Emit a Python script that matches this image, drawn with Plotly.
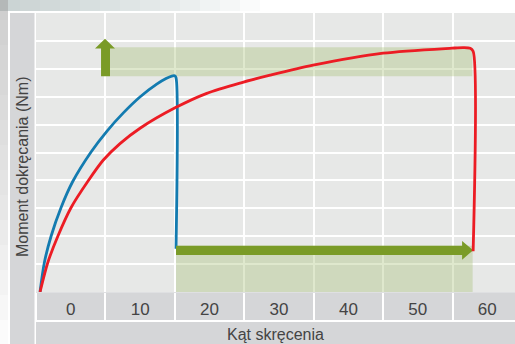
import plotly.graph_objects as go

# ---- data (axis units: x = angle, y = torque, schematic) ----
x_tick_vals = [0, 10, 20, 30, 40, 50, 60]
x_tick_text = ["0", "10", "20", "30", "40", "50", "60"]
x_grid_vals = [-5, 5, 15, 25, 35, 45, 55]

blue_x = [-4.42, -3.80, -2.84, -1.40, 0.29, 2.93, 5.23, 7.58, 9.97, 12.39, 13.73, 14.55, 14.98, 15.17, 15.17]
blue_y = [0.0, 1.05, 1.99, 3.02, 3.96, 5.02, 5.77, 6.42, 6.99, 7.45, 7.65, 7.74, 7.75, 7.68, 1.55]

red_x = [-4.42, -3.31, -1.87, 0.04, 2.45, 4.70, 7.10, 9.99, 15.03, 19.60, 24.40, 28.72,
         34.91, 45.00, 54.94, 56.53, 57.54, 57.97, 57.97]
red_y = [0.0, 1.05, 1.99, 3.02, 3.96, 4.73, 5.32, 5.87, 6.60, 7.12, 7.49, 7.77,
         8.13, 8.56, 8.74, 8.76, 8.74, 8.63, 1.46]

top_band_x = [5.66, 57.85]
top_band_y = [7.73, 8.77]
bottom_band_x = [15.17, 57.9]
bottom_band_y = [0.0, 1.66]

up_arrow_shaft_x = [4.37, 5.66]
up_arrow_shaft_y = [7.73, 8.73]
up_arrow_head_x = [3.50, 6.38]
up_arrow_tip_y = 9.08

right_arrow_shaft_y = [1.33, 1.66]
right_arrow_shaft_x = [15.17, 56.38]
right_arrow_head_y = [1.16, 1.83]
right_arrow_tip_x = 57.97

# ---- styles ----
BLUE = "#137bb0"
RED = "#ec1c24"
GREEN = "#7a9b27"
BAND = "rgba(164,188,113,0.35)"
PLOT_BG = "#e7e8e7"
GREY = "#d5d6d8"
TXT = "#444444"
FONT = "Liberation Sans"


def rect(xs, ys):
    return ([xs[0], xs[1], xs[1], xs[0], xs[0]], [ys[0], ys[0], ys[1], ys[1], ys[0]])


fig = go.Figure()

bx, by = rect(top_band_x, top_band_y)
fig.add_trace(go.Scatter(x=bx, y=by, fill="toself", fillcolor=BAND, line=dict(width=0),
                         mode="lines", hoverinfo="skip", showlegend=False))
bx, by = rect(bottom_band_x, bottom_band_y)
fig.add_trace(go.Scatter(x=bx, y=by, fill="toself", fillcolor=BAND, line=dict(width=0),
                         mode="lines", hoverinfo="skip", showlegend=False))

fig.add_trace(go.Scatter(x=blue_x, y=blue_y, mode="lines",
                         line=dict(color=BLUE, width=2.8, shape="spline", smoothing=0.8),
                         showlegend=False, hoverinfo="skip"))

# up arrow
sx0, sx1 = up_arrow_shaft_x
sy0, sy1 = up_arrow_shaft_y
hx0, hx1 = up_arrow_head_x
ux = [sx0, sx1, sx1, hx1, (hx0 + hx1) / 2, hx0, sx0, sx0]
uy = [sy0, sy0, sy1, sy1, up_arrow_tip_y, sy1, sy1, sy0]
fig.add_trace(go.Scatter(x=ux, y=uy, fill="toself", fillcolor=GREEN, line=dict(width=0),
                         mode="lines", hoverinfo="skip", showlegend=False))

# right arrow
ry0, ry1 = right_arrow_shaft_y
rx0, rx1 = right_arrow_shaft_x
hy0, hy1 = right_arrow_head_y
ax = [rx0, rx1, rx1, right_arrow_tip_x, rx1, rx1, rx0, rx0]
ay = [ry0, ry0, hy0, (hy0 + hy1) / 2, hy1, ry1, ry1, ry0]
fig.add_trace(go.Scatter(x=ax, y=ay, fill="toself", fillcolor=GREEN, line=dict(width=0),
                         mode="lines", hoverinfo="skip", showlegend=False))

fig.add_trace(go.Scatter(x=red_x, y=red_y, mode="lines",
                         line=dict(color=RED, width=2.8, shape="spline", smoothing=0.8),
                         showlegend=False, hoverinfo="skip"))

W, H = 515, 344
L, T, B = 36, 13, 52
ph = H - T - B
pw = W - L


def py(pix):
    return (H - B - pix) / ph


def px(pix):
    return (pix - L) / pw


shapes = []
# left grey band (y title)
shapes.append(dict(type="rect", xref="paper", yref="paper", x0=px(10), x1=px(34.5), y0=py(344), y1=py(13),
                   fillcolor=GREY, line=dict(width=0), layer="below"))
# tick label band
shapes.append(dict(type="rect", xref="paper", yref="paper", x0=0, x1=1.0, y0=py(320), y1=py(292.3),
                   fillcolor=GREY, line=dict(width=0), layer="below"))
# title band
shapes.append(dict(type="rect", xref="paper", yref="paper", x0=0, x1=1.0, y0=py(344), y1=py(322),
                   fillcolor=GREY, line=dict(width=0), layer="below"))
# top-left soft grey shading outside the frame
for w in range(20, 280, 20):
    shapes.append(dict(type="rect", xref="paper", yref="paper", x0=px(0), x1=px(w), y0=py(11), y1=py(0),
                       fillcolor="rgba(165,167,167,0.05)", line=dict(width=0), layer="below"))
for h in range(20, 360, 25):
    shapes.append(dict(type="rect", xref="paper", yref="paper", x0=px(0), x1=px(8), y0=py(h), y1=py(0),
                       fillcolor="rgba(165,167,167,0.045)", line=dict(width=0), layer="below"))

fig.update_layout(
    width=W, height=H,
    margin=dict(l=L, r=0, t=T, b=B, pad=0, autoexpand=False),
    paper_bgcolor="white",
    plot_bgcolor=PLOT_BG,
    shapes=shapes,
    font=dict(family=FONT, color=TXT),
    xaxis=dict(
        range=[-5, 64], showgrid=False, zeroline=False, showline=False, automargin=False,
        tickmode="array", tickvals=x_tick_vals, ticktext=x_tick_text,
        tickfont=dict(size=17, color=TXT, family=FONT), ticks="", ticklabelstandoff=5,
        minor=dict(tickmode="array", tickvals=x_grid_vals, showgrid=True, gridcolor="white", gridwidth=1.5,
                   ticks="outside", ticklen=28, tickcolor="white", tickwidth=1.5),
        title=dict(text="Kąt skręcenia", font=dict(size=16, color=TXT, family=FONT), standoff=10),
        fixedrange=True,
    ),
    yaxis=dict(
        range=[0, 10], dtick=1, showgrid=True, gridcolor="white", gridwidth=1.5, automargin=False,
        zeroline=False, showticklabels=False, ticks="", showline=False, fixedrange=True,
    ),
    annotations=[dict(text="Moment dokręcania (Nm)", xref="paper", yref="paper", x=px(22.5), y=py(166.5),
                      textangle=-90, showarrow=False, font=dict(size=16, color=TXT, family=FONT),
                      xanchor="center", yanchor="middle")],
)

fig.write_html("out.html", config={"displayModeBar": False},
               post_script="document.body.style.margin='0';document.body.style.overflow='hidden';")
